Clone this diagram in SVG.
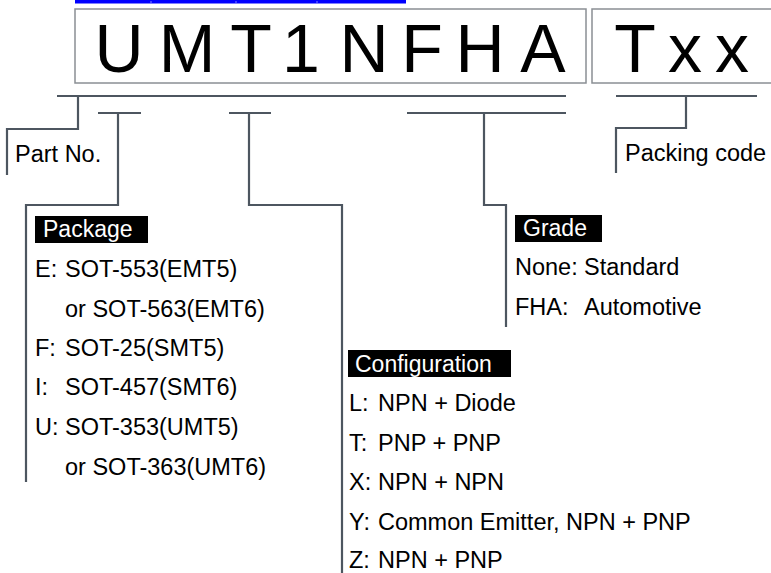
<svg xmlns="http://www.w3.org/2000/svg" width="771" height="573" viewBox="0 0 771 573">
<style>
.big{font-family:"Liberation Sans",Arial,sans-serif;font-size:68px;fill:#000;text-anchor:middle}
.t{font-family:"Liberation Sans",Arial,sans-serif;font-size:23.5px;fill:#000}
.h{font-family:"Liberation Sans",Arial,sans-serif;font-size:23px;fill:#fff}
.box{fill:#fff;stroke:#8a8f94;stroke-width:1.5}
.ln{fill:none;stroke:#4d5660;stroke-width:2.2}
</style>
<rect width="771" height="573" fill="#fff"/>
<g id="header-bar">
<rect x="75" y="0" width="331" height="3.5" fill="#0000ff"/>
<rect x="150.5" y="1" width="1" height="2.5" fill="#8080ff"/>
<rect x="235.5" y="1" width="1" height="2.5" fill="#8080ff"/>
<rect x="316.5" y="1" width="1" height="2.5" fill="#8080ff"/>
</g>
<g id="part-number-box">
<rect class="box" x="75" y="9" width="511" height="74"/>
<text class="big" x="119" y="72">U</text>
<text class="big" x="187" y="72">M</text>
<text class="big" x="251" y="72">T</text>
<text class="big" x="301" y="72">1</text>
<text class="big" x="364" y="72">N</text>
<text class="big" x="422" y="72">F</text>
<text class="big" x="480" y="72">H</text>
<text class="big" x="543" y="72">A</text>
</g>
<g id="packing-box">
<rect class="box" x="592" y="9" width="190" height="74"/>
<text class="big" x="635" y="72">T</text>
<text class="big" x="685" y="72">x</text>
<text class="big" x="732" y="72">x</text>
</g>
<g id="connectors">
<path class="ln" d="M57 96H566"/>
<path class="ln" d="M78 96V129H7V175"/>
<path class="ln" d="M98 113H141M118 113V205H26V482"/>
<path class="ln" d="M229 113H271M249 113V205H342V573"/>
<path class="ln" d="M407 113H566M484 113V205H506V327"/>
<path class="ln" d="M616 96H757M686 96V128H616V173"/>
</g>
<g id="part-no">
<text class="t" x="15" y="162">Part No.</text>
</g>
<g id="packing-code">
<text class="t" x="625" y="161">Packing code</text>
</g>
<g id="package">
<rect x="35" y="216" width="113" height="27" fill="#000"/>
<text class="h" x="43" y="237">Package</text>
<text class="t" x="35" y="277">E:</text><text class="t" x="65" y="277">SOT-553(EMT5)</text>
<text class="t" x="65" y="317">or SOT-563(EMT6)</text>
<text class="t" x="35" y="356">F:</text><text class="t" x="65" y="356">SOT-25(SMT5)</text>
<text class="t" x="35" y="395">I:</text><text class="t" x="65" y="395">SOT-457(SMT6)</text>
<text class="t" x="35" y="435">U:</text><text class="t" x="65" y="435">SOT-353(UMT5)</text>
<text class="t" x="65" y="475">or SOT-363(UMT6)</text>
</g>
<g id="grade">
<rect x="515" y="215" width="87" height="27" fill="#000"/>
<text class="h" x="523" y="236">Grade</text>
<text class="t" x="515" y="275">None:</text><text class="t" x="584" y="275">Standard</text>
<text class="t" x="515" y="315">FHA:</text><text class="t" x="584" y="315">Automotive</text>
</g>
<g id="configuration">
<rect x="348" y="350" width="163" height="27" fill="#000"/>
<text class="h" x="355" y="372">Configuration</text>
<text class="t" x="349" y="411">L:</text><text class="t" x="378" y="411">NPN + Diode</text>
<text class="t" x="349" y="451">T:</text><text class="t" x="378" y="451">PNP + PNP</text>
<text class="t" x="349" y="490">X:</text><text class="t" x="378" y="490">NPN + NPN</text>
<text class="t" x="349" y="530">Y:</text><text class="t" x="378" y="530">Common Emitter, NPN + PNP</text>
<text class="t" x="349" y="568">Z:</text><text class="t" x="378" y="568">NPN + PNP</text>
</g>
</svg>
